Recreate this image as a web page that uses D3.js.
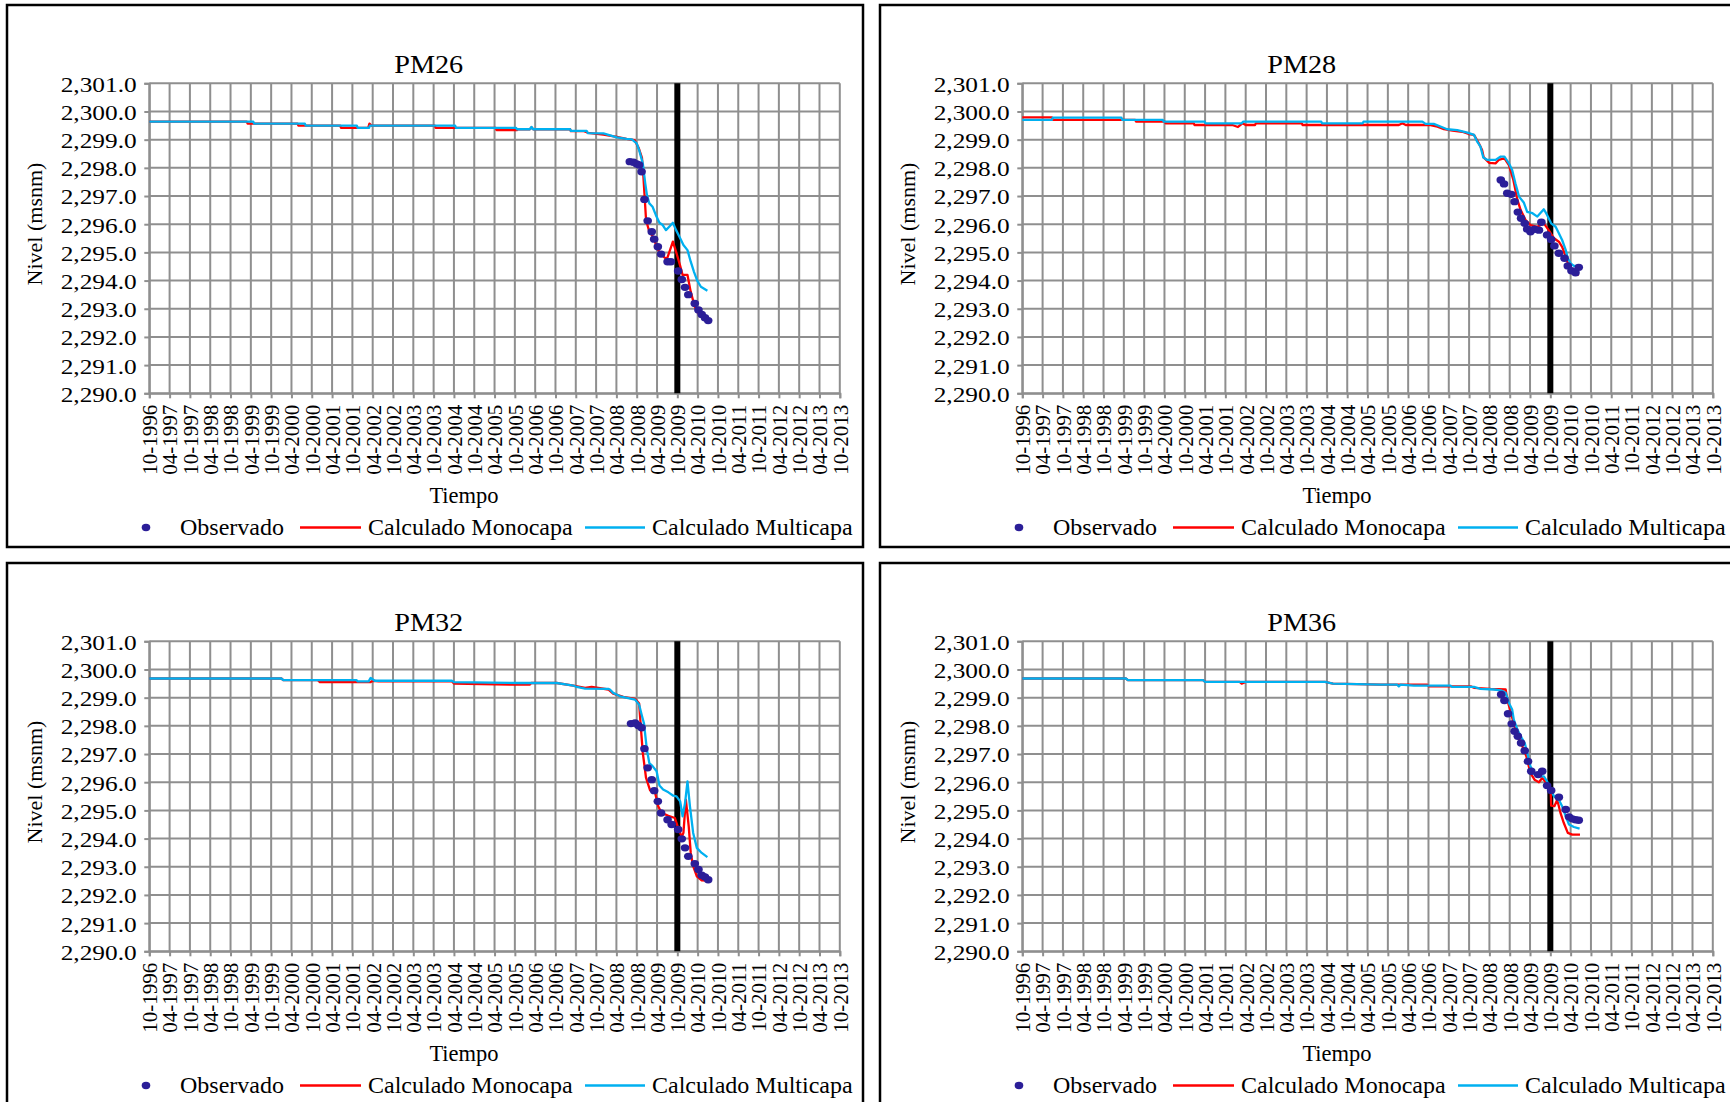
<!DOCTYPE html>
<html><head><meta charset="utf-8">
<script src="https://cdn.jsdelivr.net/npm/d3@7"></script>
<style>
html,body{margin:0;padding:0;background:#fff;overflow:hidden;}
svg{display:block;}
text{font-family:"Liberation Serif","Times New Roman",serif;fill:#000;}
</style></head><body>
<svg id="c" width="1730" height="1102"></svg>
<script>
// ---------- DATA ----------
const tickLabels = ["10-1996","04-1997","10-1997","04-1998","10-1998","04-1999","10-1999","04-2000","10-2000",
  "04-2001","10-2001","04-2002","10-2002","04-2003","10-2003","04-2004","10-2004","04-2005","10-2005",
  "04-2006","10-2006","04-2007","10-2007","04-2008","10-2008","04-2009","10-2009","04-2010","10-2010",
  "04-2011","10-2011","04-2012","10-2012","04-2013","10-2013"];
const yTickValues = [2290,2291,2292,2293,2294,2295,2296,2297,2298,2299,2300,2301];
const markerLabel = "10-2009";
const wellNames = ["PM26","PM28","PM32","PM36"];
const legendLabels = ["Observado","Calculado Monocapa","Calculado Multicapa"];
const xAxisTitle = "Tiempo";
const yAxisTitle = "Nivel (msnm)";

// [decimal year, level]
const pm26Observado = [[2008.58,2298.22],[2008.67,2298.20],[2008.75,2298.14],[2008.81,2298.10],[2008.87,2297.86],[2008.94,2296.88],[2009.02,2296.12],[2009.12,2295.73],[2009.18,2295.47],[2009.27,2295.20],[2009.35,2294.94],[2009.51,2294.67],[2009.59,2294.67],[2009.77,2294.34],[2009.86,2294.04],[2009.94,2293.76],[2010.02,2293.50],[2010.18,2293.19],[2010.27,2292.96],[2010.35,2292.80],[2010.43,2292.68],[2010.51,2292.58]];
const pm26Monocapa = [[1996.75,2299.64],[1999.15,2299.64],[1999.17,2299.57],[2000.40,2299.57],[2000.42,2299.50],[2001.45,2299.50],[2001.47,2299.42],[2002.14,2299.42],[2002.17,2299.57],[2002.22,2299.50],[2003.78,2299.50],[2003.80,2299.42],[2005.28,2299.42],[2005.30,2299.34],[2005.80,2299.34],[2005.82,2299.37],[2006.12,2299.37],[2006.16,2299.44],[2006.20,2299.37],[2007.11,2299.37],[2007.13,2299.30],[2007.45,2299.30],[2007.50,2299.28],[2007.55,2299.24],[2007.93,2299.18],[2008.26,2299.10],[2008.50,2299.03],[2008.70,2298.98],[2008.80,2298.70],[2008.88,2298.35],[2008.91,2297.80],[2008.94,2297.10],[2008.98,2296.15],[2009.06,2295.73],[2009.14,2295.58],[2009.18,2295.44],[2009.28,2295.08],[2009.36,2294.91],[2009.49,2294.75],[2009.57,2295.08],[2009.64,2295.38],[2009.72,2295.02],[2009.82,2294.52],[2009.88,2294.20],[2010.00,2294.20],[2010.08,2293.60],[2010.18,2293.07],[2010.27,2292.84],[2010.39,2292.66],[2010.51,2292.54]];
const pm26Multicapa = [[1996.75,2299.64],[1999.31,2299.64],[1999.33,2299.57],[2000.58,2299.57],[2000.60,2299.50],[2001.86,2299.50],[2001.88,2299.42],[2002.16,2299.42],[2002.18,2299.50],[2004.28,2299.50],[2004.30,2299.42],[2005.78,2299.42],[2005.80,2299.37],[2006.12,2299.37],[2006.16,2299.45],[2006.20,2299.37],[2007.11,2299.37],[2007.13,2299.31],[2007.52,2299.31],[2007.55,2299.23],[2007.93,2299.22],[2008.26,2299.08],[2008.50,2299.03],[2008.63,2299.01],[2008.75,2298.87],[2008.81,2298.63],[2008.90,2298.16],[2008.96,2297.45],[2009.00,2297.05],[2009.06,2296.74],[2009.14,2296.62],[2009.22,2296.33],[2009.31,2296.05],[2009.39,2295.97],[2009.47,2295.79],[2009.55,2295.91],[2009.64,2296.05],[2009.72,2295.79],[2009.82,2295.50],[2009.90,2295.26],[2010.00,2295.08],[2010.08,2294.67],[2010.16,2294.31],[2010.24,2294.00],[2010.33,2293.78],[2010.49,2293.64]];

const pm28Observado = [[2008.53,2297.57],[2008.61,2297.43],[2008.69,2297.10],[2008.79,2297.06],[2008.87,2296.80],[2008.95,2296.43],[2009.03,2296.21],[2009.12,2296.03],[2009.18,2295.83],[2009.26,2295.73],[2009.36,2295.82],[2009.47,2295.79],[2009.53,2296.07],[2009.67,2295.62],[2009.77,2295.46],[2009.85,2295.23],[2009.96,2294.97],[2010.10,2294.79],[2010.18,2294.52],[2010.27,2294.35],[2010.37,2294.28],[2010.45,2294.47]];
const pm28Monocapa = [[1996.75,2299.79],[1997.48,2299.79],[1997.50,2299.70],[1999.53,2299.70],[1999.55,2299.64],[2000.26,2299.64],[2000.28,2299.58],[2000.97,2299.58],[2000.99,2299.52],[2001.92,2299.52],[2002.06,2299.45],[2002.17,2299.58],[2002.25,2299.52],[2002.48,2299.52],[2002.50,2299.58],[2003.63,2299.58],[2003.65,2299.52],[2006.02,2299.52],[2006.11,2299.58],[2006.19,2299.52],[2006.80,2299.52],[2006.97,2299.46],[2007.13,2299.37],[2007.34,2299.32],[2007.58,2299.28],[2007.74,2299.20],[2007.87,2299.17],[2007.99,2298.87],[2008.07,2298.63],[2008.11,2298.37],[2008.24,2298.18],[2008.40,2298.16],[2008.48,2298.28],[2008.62,2298.34],[2008.73,2298.10],[2008.84,2297.57],[2008.94,2296.86],[2009.02,2296.50],[2009.14,2296.15],[2009.26,2295.97],[2009.43,2295.91],[2009.59,2296.03],[2009.71,2295.79],[2009.84,2295.50],[2009.96,2295.38],[2010.04,2295.20],[2010.13,2294.85],[2010.21,2294.49],[2010.29,2294.26],[2010.45,2294.20]];
const pm28Multicapa = [[1996.75,2299.70],[1997.48,2299.70],[1997.50,2299.78],[1999.19,2299.78],[1999.21,2299.70],[2000.21,2299.70],[2000.23,2299.64],[2001.24,2299.64],[2001.26,2299.58],[2002.15,2299.58],[2002.19,2299.64],[2004.11,2299.64],[2004.13,2299.58],[2005.13,2299.58],[2005.15,2299.64],[2006.60,2299.64],[2006.68,2299.56],[2006.88,2299.56],[2007.09,2299.44],[2007.21,2299.37],[2007.46,2299.34],[2007.71,2299.25],[2007.87,2299.17],[2007.95,2298.93],[2008.03,2298.75],[2008.10,2298.37],[2008.20,2298.28],[2008.40,2298.28],[2008.53,2298.40],[2008.62,2298.40],[2008.73,2298.16],[2008.81,2297.92],[2008.89,2297.45],[2008.98,2296.98],[2009.10,2296.76],[2009.18,2296.44],[2009.31,2296.39],[2009.43,2296.27],[2009.59,2296.53],[2009.67,2296.33],[2009.77,2296.03],[2009.88,2295.91],[2009.96,2295.68],[2010.04,2295.44],[2010.13,2295.08],[2010.18,2294.79],[2010.25,2294.61],[2010.33,2294.52],[2010.41,2294.52]];

const pm32Observado = [[2008.61,2298.08],[2008.71,2298.10],[2008.79,2298.01],[2008.87,2297.93],[2008.94,2297.19],[2009.02,2296.51],[2009.12,2296.09],[2009.18,2295.70],[2009.27,2295.32],[2009.35,2294.91],[2009.51,2294.67],[2009.61,2294.50],[2009.77,2294.32],[2009.86,2293.99],[2009.94,2293.67],[2010.02,2293.37],[2010.18,2293.11],[2010.27,2292.90],[2010.35,2292.70],[2010.43,2292.64],[2010.51,2292.54]];
const pm32Monocapa = [[1996.75,2299.68],[2000.00,2299.68],[2000.05,2299.62],[2000.90,2299.62],[2000.95,2299.55],[2002.20,2299.55],[2002.25,2299.60],[2002.40,2299.58],[2004.20,2299.58],[2004.25,2299.50],[2005.88,2299.46],[2006.12,2299.46],[2006.15,2299.52],[2006.78,2299.52],[2007.19,2299.43],[2007.48,2299.35],[2007.64,2299.38],[2008.05,2299.29],[2008.17,2299.14],[2008.42,2299.03],[2008.71,2298.96],[2008.81,2298.79],[2008.85,2297.98],[2008.90,2297.04],[2008.98,2296.15],[2009.08,2295.71],[2009.20,2295.64],[2009.28,2295.15],[2009.36,2294.91],[2009.53,2294.81],[2009.69,2294.73],[2009.77,2294.38],[2009.86,2294.06],[2009.90,2294.20],[2009.96,2295.38],[2010.03,2294.44],[2010.08,2293.49],[2010.14,2293.02],[2010.23,2292.66],[2010.35,2292.52],[2010.47,2292.51]];
const pm32Multicapa = [[1996.75,2299.68],[2000.00,2299.68],[2000.05,2299.62],[2001.85,2299.62],[2001.88,2299.58],[2002.15,2299.58],[2002.20,2299.70],[2002.30,2299.60],[2004.20,2299.60],[2004.25,2299.55],[2005.88,2299.52],[2006.78,2299.52],[2007.19,2299.43],[2007.27,2299.38],[2007.48,2299.32],[2008.05,2299.31],[2008.09,2299.29],[2008.17,2299.17],[2008.34,2299.05],[2008.71,2298.93],[2008.81,2298.75],[2008.87,2298.40],[2008.93,2298.08],[2009.00,2297.16],[2009.06,2296.68],[2009.14,2296.57],[2009.24,2296.39],[2009.31,2295.88],[2009.40,2295.74],[2009.53,2295.64],[2009.65,2295.52],[2009.73,2295.50],[2009.82,2295.32],[2009.88,2294.79],[2009.94,2295.26],[2010.00,2296.03],[2010.06,2295.15],[2010.14,2294.20],[2010.23,2293.67],[2010.35,2293.49],[2010.49,2293.34]];

const pm36Observado = [[2008.54,2299.11],[2008.62,2298.90],[2008.71,2298.43],[2008.80,2298.07],[2008.87,2297.81],[2008.95,2297.63],[2009.03,2297.39],[2009.12,2297.12],[2009.20,2296.74],[2009.28,2296.39],[2009.45,2296.27],[2009.55,2296.39],[2009.67,2295.88],[2009.77,2295.71],[2009.96,2295.47],[2010.13,2295.03],[2010.21,2294.77],[2010.29,2294.70],[2010.37,2294.67],[2010.45,2294.65]];
const pm36Monocapa = [[1996.75,2299.68],[1999.30,2299.68],[1999.35,2299.62],[2001.20,2299.62],[2001.25,2299.56],[2002.10,2299.56],[2002.15,2299.50],[2002.25,2299.56],[2004.20,2299.56],[2004.40,2299.50],[2005.57,2299.46],[2006.72,2299.46],[2006.76,2299.40],[2007.79,2299.40],[2007.87,2299.35],[2008.28,2299.31],[2008.65,2299.29],[2008.69,2298.93],[2008.78,2298.46],[2008.87,2297.98],[2008.95,2297.63],[2009.06,2297.28],[2009.16,2296.92],[2009.26,2296.33],[2009.36,2296.09],[2009.47,2296.00],[2009.55,2296.15],[2009.62,2296.03],[2009.69,2295.86],[2009.76,2295.62],[2009.77,2295.17],[2009.85,2295.15],[2009.92,2295.38],[2010.00,2294.91],[2010.08,2294.56],[2010.18,2294.20],[2010.29,2294.14],[2010.48,2294.14]];
const pm36Multicapa = [[1996.75,2299.68],[1999.30,2299.68],[1999.35,2299.62],[2001.20,2299.62],[2001.25,2299.56],[2004.20,2299.56],[2004.40,2299.50],[2005.57,2299.46],[2005.98,2299.46],[2006.02,2299.40],[2006.06,2299.46],[2006.39,2299.43],[2007.29,2299.43],[2007.33,2299.38],[2007.87,2299.38],[2008.03,2299.31],[2008.36,2299.29],[2008.53,2299.26],[2008.65,2299.17],[2008.73,2298.81],[2008.81,2298.58],[2008.85,2298.22],[2008.94,2297.87],[2009.02,2297.63],[2009.12,2297.39],[2009.18,2297.04],[2009.26,2296.57],[2009.36,2296.27],[2009.47,2296.21],[2009.59,2296.21],[2009.67,2296.03],[2009.76,2295.74],[2009.84,2295.50],[2009.96,2295.38],[2010.04,2295.15],[2010.13,2294.79],[2010.21,2294.50],[2010.33,2294.41],[2010.47,2294.35]];

const wells = [
  {name: wellNames[0], obs: pm26Observado, mono: pm26Monocapa, multi: pm26Multicapa},
  {name: wellNames[1], obs: pm28Observado, mono: pm28Monocapa, multi: pm28Multicapa},
  {name: wellNames[2], obs: pm32Observado, mono: pm32Monocapa, multi: pm32Multicapa},
  {name: wellNames[3], obs: pm36Observado, mono: pm36Monocapa, multi: pm36Multicapa}
];

// ---------- LAYOUT ----------
const panelPos = [[7,5],[880,5],[7,563],[880,563]];
const PW = 690.5, PH = 310, PL = 142.3, PT = 78.3;
const GRID = "#8f8f8f";
const COL_OBS = "#2B1E98", COL_MONO = "#FF0000", COL_MULTI = "#00B0F0";

const parseTick = s => { const [m, yr] = s.split("-").map(Number); return yr + (m - 1) / 12; };
const tickVals = tickLabels.map(parseTick);
const x = d3.scaleLinear().domain([tickVals[0], tickVals[tickVals.length - 1]]).range([0, PW]);
const y = d3.scaleLinear().domain([yTickValues[0], yTickValues[yTickValues.length - 1]]).range([PH, 0]);
const line = d3.line().x(d => x(d[0])).y(d => y(d[1]));

const svg = d3.select("#c");

wells.forEach((w, i) => {
  const [ox, oy] = panelPos[i];
  const g = svg.append("g").attr("transform", `translate(${ox},${oy})`);
  // panel border
  g.append("rect").attr("x", 0).attr("y", 0)
    .attr("width", i % 2 === 0 ? 856 : 870).attr("height", i < 2 ? 542 : 560)
    .attr("fill", "none").attr("stroke", "#000").attr("stroke-width", 2.5);

  const p = g.append("g").attr("transform", `translate(${PL},${PT})`);
  // grid
  p.append("g").selectAll("line").data(tickVals).join("line")
    .attr("x1", d => x(d)).attr("x2", d => x(d)).attr("y1", 0).attr("y2", PH)
    .attr("stroke", GRID).attr("stroke-width", 2);
  p.append("g").selectAll("line").data(yTickValues).join("line")
    .attr("x1", 0).attr("x2", PW).attr("y1", d => y(d)).attr("y2", d => y(d))
    .attr("stroke", GRID).attr("stroke-width", 2);

  // axes
  const xa = p.append("g").attr("transform", `translate(0,${PH})`)
    .call(d3.axisBottom(x).tickValues(tickVals).tickFormat((d, k) => tickLabels[k]).tickSize(5).tickPadding(0));
  xa.select(".domain").attr("stroke", GRID).attr("stroke-width", 2);
  xa.selectAll(".tick line").attr("stroke", GRID).attr("stroke-width", 2);
  xa.selectAll(".tick text")
    .attr("transform", "rotate(-90)").attr("text-anchor", "end")
    .attr("x", -11.5).attr("y", 0).attr("dy", "0.35em")
    .style("font-size", "21px").style("font-family", '"Liberation Serif", serif').attr("fill", "#000");

  const ya = p.append("g")
    .call(d3.axisLeft(y).tickValues(yTickValues).tickFormat(d3.format(",.1f")).tickSize(5).tickPadding(7.6));
  ya.select(".domain").attr("stroke", GRID).attr("stroke-width", 2);
  ya.selectAll(".tick line").attr("stroke", GRID).attr("stroke-width", 2);
  ya.selectAll(".tick text")
    .style("font-size", "22px").style("font-family", '"Liberation Serif", serif').attr("fill", "#000")
    .attr("dy", "0.36em").attr("textLength", 76).attr("lengthAdjust", "spacingAndGlyphs");

  // vertical marker line
  p.append("line").attr("x1", x(parseTick(markerLabel))).attr("x2", x(parseTick(markerLabel)))
    .attr("y1", 0).attr("y2", PH).attr("stroke", "#000").attr("stroke-width", 6);

  // series
  p.append("path").datum(w.mono).attr("d", line).attr("fill", "none")
    .attr("stroke", COL_MONO).attr("stroke-width", 2.3).attr("stroke-linejoin", "round");
  p.append("path").datum(w.multi).attr("d", line).attr("fill", "none")
    .attr("stroke", COL_MULTI).attr("stroke-width", 2.3).attr("stroke-linejoin", "round");
  p.append("g").selectAll("ellipse").data(w.obs).join("ellipse")
    .attr("cx", d => x(d[0])).attr("cy", d => y(d[1])).attr("rx", 4.3).attr("ry", 3.7)
    .attr("fill", COL_OBS);

  // title
  g.append("text").attr("x", 421.7).attr("y", 68.3).attr("text-anchor", "middle")
    .style("font-size", "26px").attr("textLength", 69).attr("lengthAdjust", "spacingAndGlyphs").text(w.name);
  // y axis title
  g.append("text").attr("transform", `translate(34.7,219) rotate(-90)`).attr("text-anchor", "middle")
    .style("font-size", "22px").text(yAxisTitle);
  // x axis title
  g.append("text").attr("x", 457).attr("y", 498).attr("text-anchor", "middle")
    .style("font-size", "22.5px").text(xAxisTitle);

  // legend
  const L = g.append("g").attr("transform", "translate(0,522.5)");
  L.append("ellipse").attr("cx", 139).attr("cy", 0).attr("rx", 4.3).attr("ry", 3.7).attr("fill", COL_OBS);
  L.append("text").attr("x", 173).attr("y", 7.8).style("font-size", "24px").text(legendLabels[0]);
  L.append("line").attr("x1", 293).attr("x2", 354).attr("y1", 0).attr("y2", 0).attr("stroke", COL_MONO).attr("stroke-width", 2.5);
  L.append("text").attr("x", 361).attr("y", 7.8).style("font-size", "24px").text(legendLabels[1]);
  L.append("line").attr("x1", 578).attr("x2", 638).attr("y1", 0).attr("y2", 0).attr("stroke", COL_MULTI).attr("stroke-width", 2.5);
  L.append("text").attr("x", 645).attr("y", 7.8).style("font-size", "24px").text(legendLabels[2]);
});
</script>
</body></html>
